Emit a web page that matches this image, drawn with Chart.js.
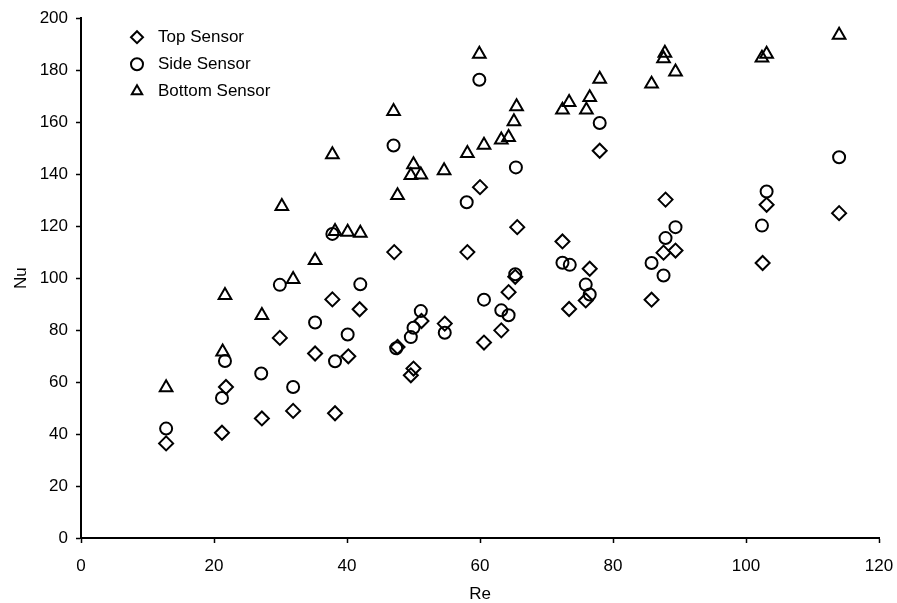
<!DOCTYPE html>
<html><head><meta charset="utf-8">
<script src="https://cdn.jsdelivr.net/npm/chart.js@4"></script>
<style>html,body{margin:0;padding:0;background:#fff}#wrap{width:897px;height:603px}</style>
</head><body><div id="wrap"><canvas id="c" width="897" height="603"></canvas></div>
<script>
const seriesNames = ["Top Sensor", "Side Sensor", "Bottom Sensor"];
const xTitle = "Re";
const yTitle = "Nu";
const xTicks = [0, 20, 40, 60, 80, 100, 120];
const yTicks = [0, 20, 40, 60, 80, 100, 120, 140, 160, 180, 200];

const topRe = [12.8, 21.2, 21.8, 27.2, 29.9, 31.9, 35.2, 37.8, 38.2, 40.2, 41.9, 47.1, 47.6, 49.6, 50.0, 51.2, 54.7, 58.1, 60.0, 60.6, 63.2, 64.3, 65.3, 65.6, 72.4, 73.4, 75.9, 76.5, 78.0, 85.8, 87.6, 87.9, 89.4, 102.5, 103.1, 114.0];
const topNu = [36.4, 40.5, 58.1, 46.0, 77.0, 48.9, 71.0, 91.8, 48.0, 69.9, 88.0, 110.0, 73.5, 62.6, 65.2, 83.5, 82.5, 110.0, 135.0, 75.2, 79.9, 94.6, 100.5, 119.6, 114.1, 88.1, 91.4, 103.6, 149.0, 91.7, 109.8, 130.2, 110.6, 105.8, 128.2, 125.0];

const sideRe = [12.8, 21.2, 21.65, 27.1, 29.9, 31.9, 35.2, 37.8, 38.2, 40.1, 42.0, 47.0, 47.4, 49.6, 50.0, 51.1, 54.7, 58.0, 59.9, 60.6, 63.2, 64.3, 65.3, 65.4, 72.4, 73.5, 75.9, 76.5, 78.0, 85.8, 87.6, 87.9, 89.4, 102.4, 103.1, 114.0];
const sideNu = [42.1, 53.9, 68.1, 63.3, 97.4, 58.1, 82.9, 117.0, 68.0, 78.3, 97.6, 151.0, 73.0, 77.3, 80.9, 87.3, 79.0, 129.2, 176.3, 91.7, 87.6, 85.7, 101.5, 142.6, 105.9, 105.1, 97.5, 93.7, 159.7, 105.8, 101.0, 115.4, 119.6, 120.2, 133.3, 146.5];

const bottomRe = [12.8, 21.3, 21.65, 27.2, 30.2, 31.9, 35.2, 37.8, 38.2, 40.1, 42.0, 47.0, 47.6, 49.6, 50.0, 51.1, 54.6, 58.1, 59.9, 60.6, 63.2, 64.3, 65.1, 65.5, 72.4, 73.4, 76.0, 76.5, 78.0, 85.8, 87.6, 87.8, 89.4, 102.4, 103.1, 114.0];
const bottomNu = [57.9, 71.6, 93.4, 85.7, 127.6, 99.5, 106.8, 147.5, 118.0, 117.7, 117.3, 164.2, 131.8, 139.5, 143.7, 139.7, 141.4, 148.0, 186.2, 151.2, 153.2, 154.2, 160.2, 166.0, 164.7, 167.6, 164.7, 169.5, 176.6, 174.7, 184.5, 186.6, 179.4, 184.7, 186.2, 193.5];

const FONT = "'Liberation Sans', Arial, sans-serif";
const toPts = (xs, ys) => xs.map((x, i) => ({x: x, y: ys[i]}));

const styles = [
  {pointStyle: 'rectRot', pointRadius: 7},
  {pointStyle: 'circle', pointRadius: 6},
  {pointStyle: 'triangle', pointRadius: 7.3}
];
const seriesData = [toPts(topRe, topNu), toPts(sideRe, sideNu), toPts(bottomRe, bottomNu)];

const insideLegend = {
  id: 'insideLegend',
  afterDraw(chart) {
    const ctx = chart.ctx;
    const ca = chart.chartArea;
    ctx.save();
    ctx.font = "17px " + FONT;
    ctx.textBaseline = 'middle';
    ctx.textAlign = 'left';
    chart.data.datasets.forEach((ds, i) => {
      const y = ca.top + 19 + i * 27;
      const x = ca.left + 56;
      ctx.strokeStyle = '#000';
      ctx.fillStyle = 'rgba(0,0,0,0)';
      ctx.lineWidth = 2;
      Chart.helpers.drawPoint(ctx, {pointStyle: ds.pointStyle, radius: 6, borderWidth: 2, rotation: 0}, x, y);
      ctx.fillStyle = '#000';
      ctx.fillText(ds.label, ca.left + 77, y);
    });
    ctx.restore();
  }
};

new Chart(document.getElementById('c'), {
  type: 'scatter',
  data: {
    datasets: seriesNames.map((name, i) => ({
      label: name,
      data: seriesData[i],
      pointStyle: styles[i].pointStyle,
      pointRadius: styles[i].pointRadius,
      pointHoverRadius: styles[i].pointRadius,
      borderColor: '#000',
      backgroundColor: 'rgba(0,0,0,0)',
      pointBorderWidth: 2,
      borderWidth: 2
    }))
  },
  options: {
    responsive: false,
    animation: false,
    layout: {padding: {left: 0, right: 18, top: 17, bottom: 0}},
    plugins: {legend: {display: false}, tooltip: {enabled: false}},
    scales: {
      x: {
        type: 'linear', min: 0, max: 120,
        afterBuildTicks: (s) => { s.ticks = xTicks.map(v => ({value: v})); },
        afterFit: (s) => { s.height = 65; s.paddingRight = 0; s.paddingLeft = 0; },
        grid: {display: true, drawOnChartArea: false, drawTicks: true, tickLength: 5, tickColor: '#000', tickWidth: 1.5},
        border: {display: true, color: '#000', width: 2},
        ticks: {color: '#000', font: {family: FONT, size: 17}, padding: 13, maxRotation: 0},
        title: {display: true, text: xTitle, color: '#000', font: {family: FONT, size: 17}, padding: {top: 0, bottom: -2}}
      },
      y: {
        type: 'linear', min: 0, max: 200,
        afterBuildTicks: (s) => { s.ticks = yTicks.map(v => ({value: v})); },
        afterFit: (s) => { s.width = 81; },
        grid: {display: true, drawOnChartArea: false, drawTicks: true, tickLength: 5, tickColor: '#000', tickWidth: 1.5},
        border: {display: true, color: '#000', width: 2},
        ticks: {color: '#000', font: {family: FONT, size: 17}, padding: 8},
        title: {display: true, text: yTitle, color: '#000', font: {family: FONT, size: 17}, padding: {top: 11, bottom: 0}}
      }
    }
  },
  plugins: [insideLegend]
});
</script></body></html>
